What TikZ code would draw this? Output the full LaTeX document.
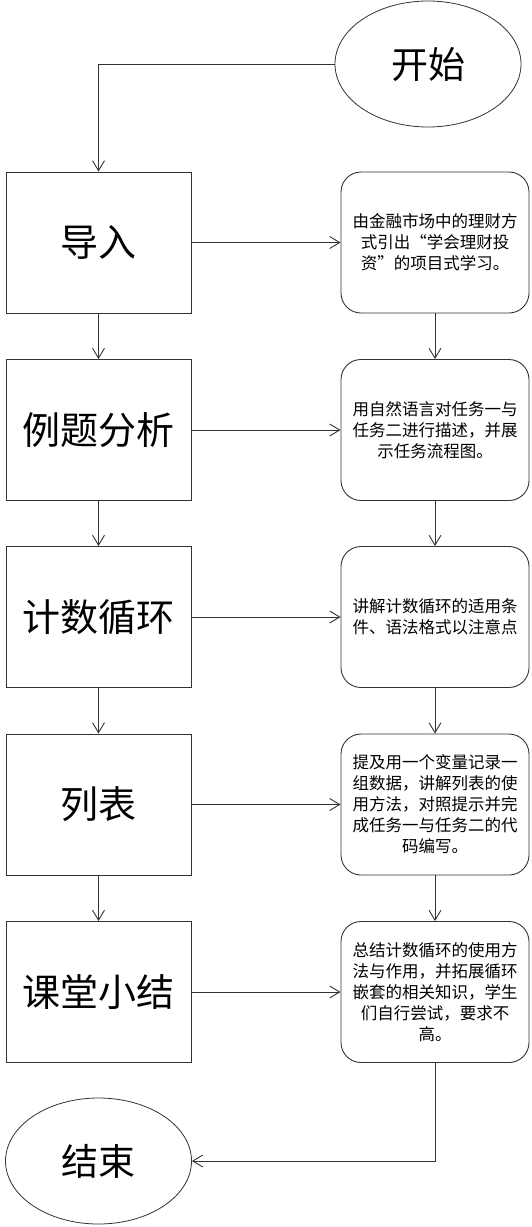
\documentclass[tikz,border=0pt]{standalone}
\usepackage{fontspec}
\setmainfont{Noto Sans CJK SC}
\usepackage{tikz}
\usetikzlibrary{arrows.meta,shapes.geometric}

\tikzset{
  stage/.style={draw=black!80, line width=0.9pt, minimum width=185pt, minimum height=141pt,
    inner sep=0pt, font=\fontsize{38}{42}\selectfont},
  note/.style={draw=black!80, line width=0.9pt, rounded corners=20pt, minimum width=188pt,
    minimum height=141pt, inner sep=2pt, align=center, font=\fontsize{16.5}{21}\selectfont},
  term/.style={draw=black!80, line width=0.8pt, ellipse, minimum width=186pt, minimum height=126pt,
    inner sep=0pt, font=\fontsize{37}{40}\selectfont},
  flow/.style={draw=black!80, line width=0.9pt, -{Straight Barb[length=10pt,width=12pt]}}
}

\begin{document}
\begin{tikzpicture}[x=1pt,y=-1pt]
  \useasboundingbox (0,0) rectangle (531,1227);
  % start and end
  \node[term] (start) at (428,64) {开始};
  \node[term] (end) at (98.5,1161) {结束};
  % teaching stages
  \node[stage] (s1) at (98.5,242.5) {导入};
  \node[stage] (s2) at (98.5,430) {例题分析};
  \node[stage] (s3) at (98.5,617) {计数循环};
  \node[stage] (s4) at (98.5,804.5) {列表};
  \node[stage] (s5) at (98.5,992) {课堂小结};
  % notes on each stage
  \node[note] (n1) at (435,242.5) {由金融市场中的理财方\\式引出“学会理财投\\资”的项目式学习。};
  \node[note] (n2) at (435,430) {用自然语言对任务一与\\任务二进行描述，并展\\示任务流程图。};
  \node[note] (n3) at (435,617) {讲解计数循环的适用条\\件、语法格式以注意点};
  \node[note] (n4) at (435,804.5) {提及用一个变量记录一\\组数据，讲解列表的使\\用方法，对照提示并完\\成任务一与任务二的代\\码编写。};
  \node[note] (n5) at (435,992) {总结计数循环的使用方\\法与作用，并拓展循环\\嵌套的相关知识，学生\\们自行尝试，要求不\\高。};
  % connectors
  \draw[flow] (start.west) -| (s1.north);
  \foreach \i in {1,...,5}
    \draw[flow] (s\i) -- (n\i);
  \foreach \i/\j in {1/2,2/3,3/4,4/5} {
    \draw[flow] (s\i) -- (s\j);
    \draw[flow] (n\i) -- (n\j);
  }
  \draw[flow] (n5.south) |- (end.east);
\end{tikzpicture}
\end{document}
